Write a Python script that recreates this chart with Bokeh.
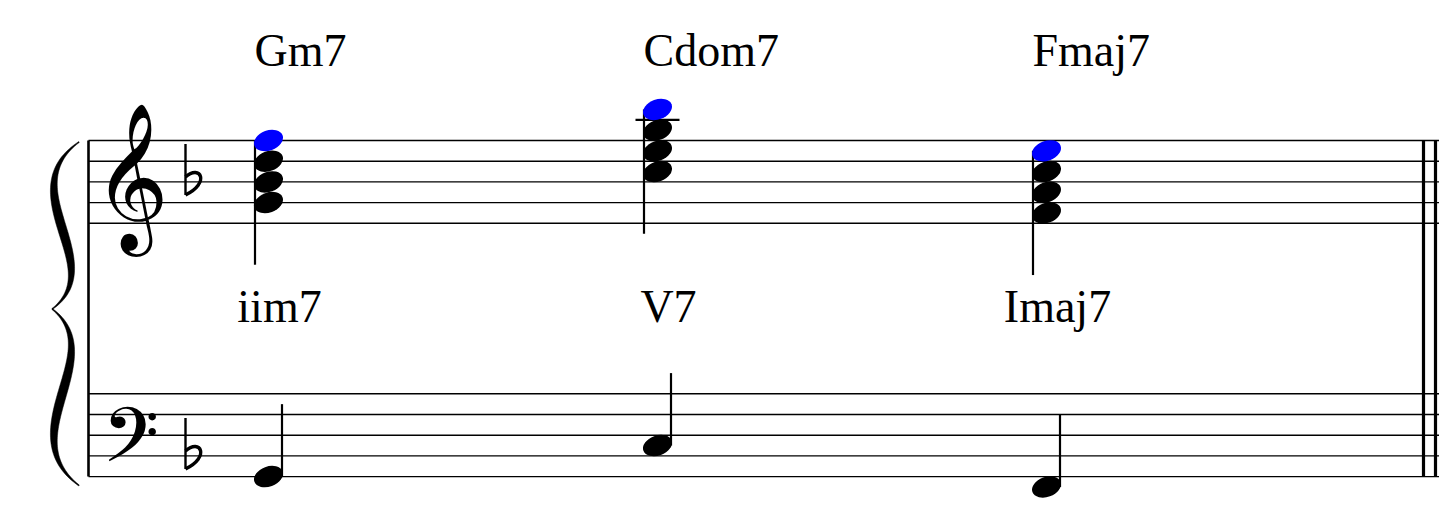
import numpy as np
from bokeh.plotting import figure
from bokeh.models import Range1d
from bokeh.core.properties import value
from bokeh.embed import file_html
from bokeh.resources import INLINE

# chord symbols above, roman numerals below the treble staff
chord_names = ["Gm7", "Cdom7", "Fmaj7"]
roman_numerals = ["iim7", "V7", "Imaj7"]
# right hand chords (bottom to top) and the highlighted 7ths
treble_chords = [["G4", "Bb4", "D5", "F5"],
                 ["C5", "E5", "G5", "Bb5"],
                 ["F4", "A4", "C5", "E5"]]
sevenths = ["F5", "Bb5", "E5"]
# left hand roots
bass_notes = ["G2", "C3", "F2"]
key_flats_treble = ["Bb4"]
key_flats_bass = ["Bb2"]

W, H = 1439, 512
GAP = 20.7
TREBLE_TOP = 140.0
BASS_TOP = 393.3
X0, X1 = 88, 1439
BEAT0, BEAT_STEP = 268, 389

LETTERS = "CDEFGAB"


def diatonic(p):
    return LETTERS.index(p[0]) + 7 * int(p[-1])


def treble_y(p):
    step = diatonic(p) - diatonic("E4")
    return TREBLE_TOP + 4 * GAP - step * GAP / 2


def bass_y(p):
    step = diatonic(p) - diatonic("G2")
    return BASS_TOP + 4 * GAP - step * GAP / 2


p = figure(width=W, height=H, output_backend="svg", toolbar_location=None,
           x_range=Range1d(0, W), y_range=Range1d(H, 0),
           min_border=0, outline_line_color=None)
p.axis.visible = False
p.grid.visible = False
p.background_fill_color = "white"

# staves
for top in (TREBLE_TOP, BASS_TOP):
    ys = [top + i * GAP for i in range(5)]
    p.segment(x0=[X0] * 5, y0=ys, x1=[X1] * 5, y1=ys, line_color="black", line_width=1.4)

# system barline and final double bar
p.segment(x0=[X0], y0=[TREBLE_TOP], x1=[X0], y1=[BASS_TOP + 4 * GAP], line_color="black", line_width=2.6)
p.segment(x0=[1423, 1435], y0=[TREBLE_TOP] * 2, x1=[1423, 1435], y1=[BASS_TOP + 4 * GAP] * 2,
          line_color="black", line_width=3.2)


# brace
def brace_half(tip, end):
    t = np.linspace(0, 1, 80)
    P0 = np.array(tip)
    P3 = np.array(end)
    sgn = 1 if end[1] < tip[1] else -1
    L = abs(end[1] - tip[1])
    P1 = np.array([110, tip[1] - sgn * 0.26 * L])
    P2 = np.array([10, tip[1] - sgn * 0.71 * L])
    c = ((1 - t) ** 3)[:, None] * P0 + (3 * t * (1 - t) ** 2)[:, None] * P1 \
        + (3 * t ** 2 * (1 - t))[:, None] * P2 + (t ** 3)[:, None] * P3
    d = np.gradient(c, axis=0)
    n = np.stack([-d[:, 1], d[:, 0]], axis=1)
    n /= np.linalg.norm(n, axis=1)[:, None]
    w = 0.5 + 4.0 * np.sin(np.pi * t) ** 1.2
    a = c + n * w[:, None]
    b = c - n * w[:, None]
    return np.concatenate([a, b[::-1]])


tip = (51.7, 308.5)
up = brace_half(tip, (78.5, 141.5))
dn = brace_half(tip, (78.5, 485.0))
p.patch(up[:, 0], up[:, 1], fill_color="black", line_color="black", line_width=0.5)
p.patch(dn[:, 0], dn[:, 1], fill_color="black", line_color="black", line_width=0.5)

# clefs
music_font = value("'Noto Music', 'FreeSerif', 'Symbola', 'DejaVu Sans'")
p.text(x=[104], y=[178], text=["\U0001D11E"], text_font=music_font, text_font_size="88px",
       text_baseline="alphabetic", text_align="left", text_color="black")
p.text(x=[105], y=[434], text=["\U0001D122"], text_font=music_font, text_font_size="68px",
       text_baseline="alphabetic", text_align="left", text_color="black")

# key signature flats
fy = [treble_y(key_flats_treble[0]), bass_y(key_flats_bass[0])]
p.segment(x0=[185] * 2, y0=[y - 38 for y in fy], x1=[185] * 2, y1=[y + 13 for y in fy],
          line_color="black", line_width=2.4)
p.bezier(x0=[185] * 2, y0=[y - 5 for y in fy], x1=[185] * 2, y1=[y + 13 for y in fy],
         cx0=[200] * 2, cy0=[y - 18 for y in fy], cx1=[210] * 2, cy1=[y + 1 for y in fy],
         line_color="black", line_width=3.4)

# notes
for i, chord in enumerate(treble_chords):
    x = BEAT0 + i * BEAT_STEP
    ys = [treble_y(n) for n in chord]
    # ledger lines above the staff
    top_step = max(diatonic(n) for n in chord) - diatonic("E4")
    for s in range(10, top_step + 1, 2):
        ly = TREBLE_TOP + 4 * GAP - s * GAP / 2
        p.segment(x0=[x - 22], y0=[ly], x1=[x + 22], y1=[ly], line_color="black", line_width=2.2)
    p.segment(x0=[x - 13.5], y0=[min(ys)], x1=[x - 13.5], y1=[max(ys) + 3 * GAP], line_color="black", line_width=2.2)
    colors = ["#0000ff" if n == sevenths[i] else "black" for n in chord]
    p.ellipse(x=[x] * len(chord), y=ys, width=30, height=20, angle=0.35,
              fill_color=colors, line_color=None)

    by = bass_y(bass_notes[i])
    p.segment(x0=[x + 13.5], y0=[by], x1=[x + 13.5], y1=[by - 3.5 * GAP], line_color="black", line_width=2.2)
    p.ellipse(x=[x], y=[by], width=30, height=20, angle=0.35, fill_color="black", line_color=None)

    p.text(x=[x - 14], y=[50], text=[chord_names[i]], text_font=value("Liberation Serif"),
           text_font_size="46px", text_baseline="alphabetic", text_align="left", text_color="black")
    p.text(x=[x + 11], y=[306], text=[roman_numerals[i]], text_font=value("Liberation Serif"),
           text_font_size="46px", text_baseline="alphabetic", text_align="center", text_color="black")

open("out.html", "w").write(file_html(p, INLINE))
